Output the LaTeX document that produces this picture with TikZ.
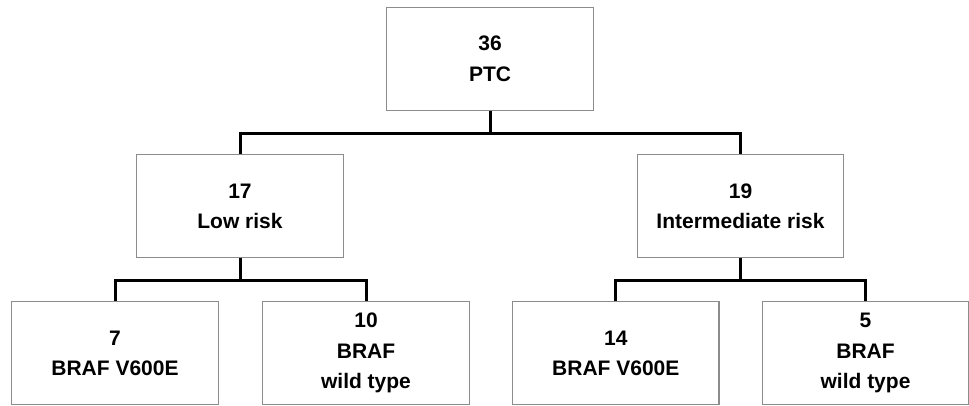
\documentclass[tikz,border=0pt]{standalone}
\usepackage{fontspec}
\setmainfont{Liberation Sans}
\begin{document}
\begin{tikzpicture}[x=1pt,y=1pt,
  box/.style={draw=black!45,line width=1.2pt,minimum width=206.5pt,minimum height=103pt,
    inner sep=0pt,align=center,font=\fontsize{21}{30.5}\selectfont\bfseries},
  conn/.style={draw=black,line width=3pt}]
\useasboundingbox (0,0) rectangle (969,-406);
\node[box] (top) at (490,-58.8) {36\\PTC};
\node[box] (ml) at (240,-206.3) {17\\Low risk};
\node[box] (mr) at (740.5,-206.3) {19\\Intermediate risk};
\node[box] (b1) at (115,-353.3) {7\\BRAF V600E};
\node[box] (b2) at (366,-353.3) {10\\BRAF\\wild type};
\node[box] (b3) at (615.8,-353.3) {14\\BRAF V600E};
\node[box] (b4) at (865.5,-353.3) {5\\BRAF\\wild type};
\path (top.south) ++(0,-22.5) coordinate (j1);
\path (ml.south) ++(0,-22.5) coordinate (j2);
\path (mr.south) ++(0,-22.5) coordinate (j3);
\draw[conn] (top.south) -- (j1);
\draw[conn] (ml.north) |- (j1) -| (mr.north);
\draw[conn] (ml.south) -- (j2);
\draw[conn] (b1.north) |- (j2) -| (b2.north);
\draw[conn] (mr.south) -- (j3);
\draw[conn] (b3.north) |- (j3) -| (b4.north);
\end{tikzpicture}
\end{document}
